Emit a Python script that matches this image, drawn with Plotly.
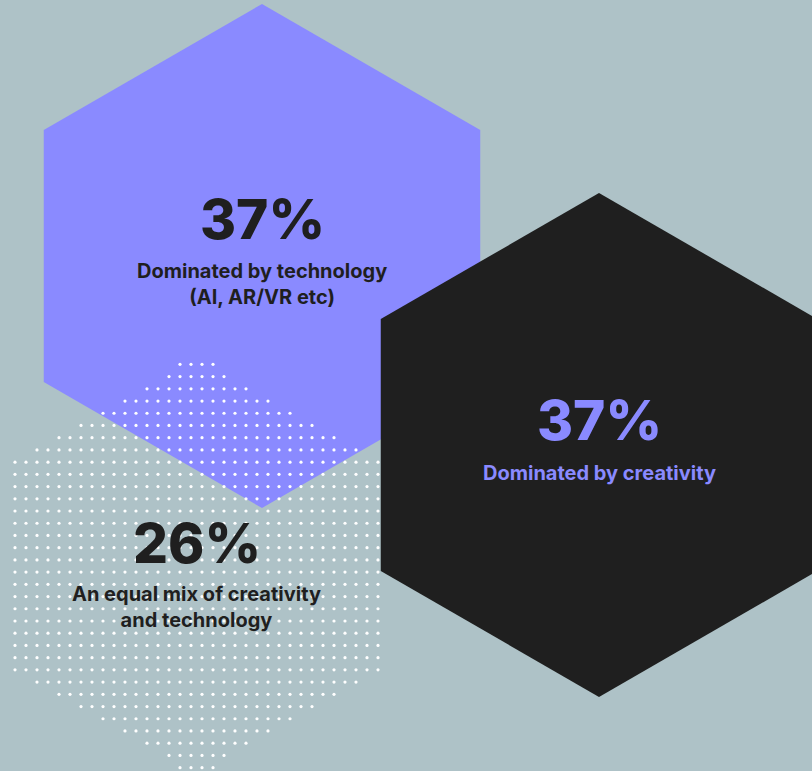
import numpy as np
import plotly.graph_objects as go

# ---- data ----
values = [37, 37, 26]
value_labels = ["37%", "37%", "26%"]
descriptions = [
    "Dominated by technology<br>(AI, AR/VR etc)",
    "Dominated by creativity",
    "An equal mix of creativity<br>and technology",
]

# ---- layout constants (positions / styles) ----
W, H = 812, 771
BG = "#aec2c7"
PURPLE = "#8a8aff"
BLACK = "#1f1f1f"
DARK = "#1f1f1f"
centers = [(262, 256), (599, 445), (196.5, 566)]
K = 252 / np.sqrt(37)  # hexagon radius scale (area ~ value)
FONT = "Inter"


def hexagon(cx, cy, r):
    ang = np.deg2rad(np.array([-90, -30, 30, 90, 150, 210, -90]))
    return cx + r * np.cos(ang), cy + r * np.sin(ang)


def inside_hex(px, py, cx, cy, r):
    dx = np.abs(px - cx)
    dy = np.abs(py - cy)
    hw = r * np.sqrt(3) / 2
    return (dx <= hw) & (dy <= r - dx / np.sqrt(3))


fig = go.Figure()

# purple hexagon (technology)
hx, hy = hexagon(*centers[0], K * np.sqrt(values[0]))
fig.add_trace(go.Scatter(x=hx, y=hy, mode="lines", fill="toself",
                         fillcolor=PURPLE, line=dict(width=0, color=PURPLE),
                         hoverinfo="skip", showlegend=False))

# dotted hexagon (equal mix)
cx, cy = centers[2]
r3 = K * np.sqrt(values[2])
gx = cx + 11 * (np.arange(40) - 19.5)
gy = cy + 12.22 * (np.arange(40) - 19.5)
GX, GY = np.meshgrid(gx, gy)
GX, GY = GX.ravel(), GY.ravel()
m = inside_hex(GX, GY, cx, cy, r3)
fig.add_trace(go.Scatter(x=GX[m], y=GY[m], mode="markers",
                         marker=dict(size=3.2, color="white", line=dict(width=0)),
                         hoverinfo="skip", showlegend=False))

# black hexagon (creativity)
hx, hy = hexagon(*centers[1], K * np.sqrt(values[1]))
fig.add_trace(go.Scatter(x=hx, y=hy, mode="lines", fill="toself",
                         fillcolor=BLACK, line=dict(width=0, color=BLACK),
                         hoverinfo="skip", showlegend=False))

num_y = [219, 419.5, 542.5]
desc_y = [256.5, 459, 580]
colors = [DARK, PURPLE, DARK]
for i in range(3):
    fig.add_annotation(x=centers[i][0], y=num_y[i], text=value_labels[i],
                       showarrow=False, xanchor="center", yanchor="middle",
                       font=dict(family=FONT, size=55, color=colors[i], weight=800))
    fig.add_annotation(x=centers[i][0], y=desc_y[i], text=descriptions[i],
                       showarrow=False, xanchor="center", yanchor="top",
                       font=dict(family=FONT, size=20, color=colors[i], weight=700))

fig.update_layout(
    width=W, height=H, margin=dict(l=0, r=0, t=0, b=0),
    paper_bgcolor=BG, plot_bgcolor=BG,
    xaxis=dict(range=[0, W], visible=False, fixedrange=True),
    yaxis=dict(range=[H, 0], visible=False, fixedrange=True),
    showlegend=False,
)

fig.write_html("out.html")
